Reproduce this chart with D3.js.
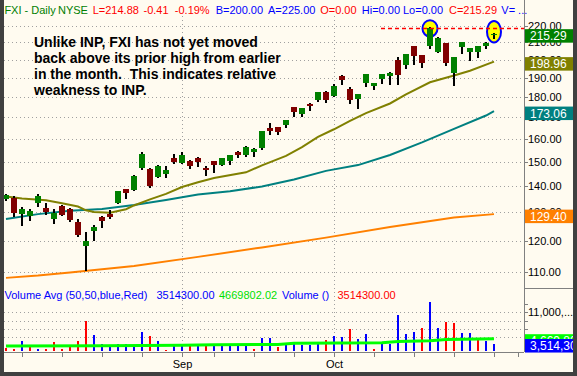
<!DOCTYPE html>
<html>
<head>
<meta charset="utf-8">
<script src="https://cdn.jsdelivr.net/npm/d3@7"></script>
<style>
  body { margin: 0; background: #fffbf0; }
  svg { display: block; font-family: "Liberation Sans", Arial, sans-serif; }
</style>
</head>
<body>
<div id="chart"></div>
<script>
// ---- data ----
var dates = ["2007-08-02","2007-08-03","2007-08-06","2007-08-07","2007-08-08","2007-08-09","2007-08-10",
  "2007-08-13","2007-08-14","2007-08-15","2007-08-16","2007-08-17","2007-08-20","2007-08-21","2007-08-22",
  "2007-08-23","2007-08-24","2007-08-27","2007-08-28","2007-08-29","2007-08-30","2007-08-31",
  "2007-09-04","2007-09-05","2007-09-06","2007-09-07","2007-09-10","2007-09-11","2007-09-12","2007-09-13",
  "2007-09-14","2007-09-17","2007-09-18","2007-09-19","2007-09-20","2007-09-21","2007-09-24","2007-09-25",
  "2007-09-26","2007-09-27","2007-09-28",
  "2007-10-01","2007-10-02","2007-10-03","2007-10-04","2007-10-05","2007-10-08","2007-10-09","2007-10-10",
  "2007-10-11","2007-10-12","2007-10-15","2007-10-16","2007-10-17","2007-10-18","2007-10-19","2007-10-22",
  "2007-10-23","2007-10-24","2007-10-25","2007-10-26","2007-10-29"];

var open  = [135.2,135.6,129.5,128.7,133.7,131.5,127.8,132.3,131.2,126.6,118.3,123.4,128.4,129.6,133.7,138.8,
  138.5,147.5,147.0,143.8,144.9,151.7,149.6,150.4,151.6,147.5,150.3,148.5,150.3,154.2,152.9,154.2,156.1,165.1,
  165.3,166.2,175.0,171.6,176.7,178.5,182.6,180.6,191.1,184.1,179.2,187.3,186.0,189.4,191.2,199.9,197.1,207.9,
  202.7,208.1,204.6,209.7,192.7,207.5,204.6,204.4,208.1,214.3];
var high  = [136.9,136.0,132.0,131.3,137.1,133.6,131.3,132.9,131.5,127.6,123.0,125.5,128.6,130.8,138.3,139.0,
  144.3,154.2,147.2,148.8,148.2,153.2,154.2,150.7,152.0,148.2,150.5,151.8,153.1,154.8,156.9,156.1,163.8,167.4,
  165.5,168.9,175.1,174.7,177.2,182.7,183.2,186.8,191.8,185.1,181.7,192.2,187.4,192.2,193.4,201.7,203.4,208.1,
  202.9,219.5,213.5,209.9,201.8,210.4,207.0,208.0,210.0,215.6];
var low   = [134.1,128.5,125.2,127.0,132.2,129.1,125.9,128.7,126.6,121.3,110.3,120.0,124.4,127.6,133.2,135.1,
  138.1,146.7,139.4,143.1,143.3,149.1,149.0,146.8,147.8,144.1,145.4,148.2,148.6,151.7,152.0,152.0,155.0,161.8,
  161.8,165.2,170.2,170.2,173.2,177.5,177.2,180.2,186.5,176.5,174.1,185.2,183.7,186.8,186.3,186.3,194.8,197.1,
  195.4,206.2,203.9,196.7,186.0,203.3,199.5,200.8,206.2,212.1];
var close = [136.6,129.9,131.2,130.5,136.2,130.0,129.7,129.0,127.3,122.0,120.0,124.7,127.0,128.4,138.1,137.4,
  144.1,153.3,140.2,148.2,146.5,150.0,153.0,148.3,149.8,146.5,148.6,151.6,152.9,152.9,156.4,155.4,163.5,163.6,
  163.2,168.8,172.7,174.6,175.7,182.6,178.8,185.8,188.9,178.5,181.6,192.1,187.3,192.1,192.7,191.6,203.3,202.3,
  198.2,218.7,212.7,198.2,201.7,210.3,206.9,207.9,209.9,215.29];

var volume = [2470000,2210000,4130000,3170000,2110000,2110000,3890000,2110000,3020000,4130000,8990000,5570000,
  3410000,2930000,3410000,3410000,3050000,6280000,5330000,4130000,2020000,3410000,3140000,3170000,2980000,
  3000000,3410000,3050000,3410000,3000000,3000000,2280000,4850000,4850000,2690000,3410000,3410000,3240000,
  3240000,3650000,4370000,5330000,5090000,7000000,4610000,5800000,2280000,3480000,3480000,10430000,5880000,
  6280000,7240000,13480000,7240000,8680000,8440000,6040000,6040000,4850000,4200000,3514300];
// u = volume bar drawn as an up day (blue), d = down day (red)
var volDir = "ddudud" + "dddd" + "duuuuuuudu" + "duudud" + "uuuu" + "udu" + "udu" + "uuuu" +
             "duuduudu" + "uu" + "uuduuddu" + "udu" + "uu";

// moving averages (bar index, value)
var maFastBars = [0,2,5,7,9,10,11,13,15,16,18,20,22,24,26,30,32,35,37,39,41,43,45,48,50,53,56,58,61];
var maFastVals = [136.0,135.2,134.6,133.4,132.2,130.8,130.2,129.9,131.2,132.6,134.9,137.0,139.7,141.6,143.3,
  145.6,148.5,152.5,156.3,160.9,164.4,168.3,172.1,176.8,181.4,187.7,191.3,193.9,198.96];
var maMidBars = [0,4,8,12,16,20,24,28,32,36,40,44,48,52,56,60,61];
var maMidVals = [127.6,129.4,130.6,131.3,132.8,134.7,136.8,138.0,139.9,142.7,146.2,148.6,152.9,158.4,164.6,
  170.9,173.06];
var maSlowBars = [0,4,8,12,16,24,32,40,48,56,61];
var maSlowVals = [108.1,108.8,109.75,110.8,111.8,114.7,117.8,121.1,124.8,128.2,129.4];

var volAvgBars = [0,12,22,26,34,36,47,49,53,55,61];
var volAvgVals = [2950000,3000000,3100000,3200000,3300000,3600000,3700000,4000000,4200000,4450000,4669802];

var priceTicks = [110,120,130,140,150,160,170,180,190,200,210,220];
var volTicks = [5000000,7000000,9000000,11000000,13000000];
var volGrid = [5000000,7000000,9000000,11000000];
var volLabelTicks = [11000000];

var priorHigh = 218.5, priorHighFrom = 47;
var circled = [[53, 218.5], [61, 216.5]];

var notes = ["Unlike INP, FXI has not yet moved",
             "back above its prior high from earlier",
             "in the month.  This indicates relative",
             "weakness to INP."];

// ---- layout ----
var W = 577, H = 376;
var plotL = 4, plotR = 524, frameR = 573, frameB = 372;
var volBase = 350.7, axisY = 352;

var svg = d3.select("#chart").append("svg")
    .attr("width", W).attr("height", H);

svg.append("rect").attr("width", W).attr("height", H).attr("fill", "#fffbf0");

var parse = d3.timeParse("%Y-%m-%d");
var days = dates.map(parse);

var x = d3.scaleLinear().domain([0, 61]).range([6, 494]);
var y = d3.scaleLog().domain([110, 220]).range([271.7, 26]);
var yv = d3.scaleLinear().domain([1800000, 16800000]).range([volBase, 288]);

svg.append("clipPath").attr("id", "plot")
  .append("rect").attr("x", plotL).attr("y", 0).attr("width", plotR - plotL).attr("height", axisY);

var grid = svg.append("g").attr("stroke", "#a0a0a0").attr("stroke-dasharray", "1,3")
    .attr("shape-rendering", "crispEdges");

// horizontal dotted grid
grid.selectAll(".hp").data(priceTicks).enter().append("line")
    .attr("x1", plotL).attr("x2", plotR)
    .attr("y1", d => Math.round(y(d)) + 0.5).attr("y2", d => Math.round(y(d)) + 0.5);
grid.selectAll(".hv").data(volGrid).enter().append("line")
    .attr("x1", plotL).attr("x2", plotR)
    .attr("y1", d => Math.round(yv(d)) + 0.5).attr("y2", d => Math.round(yv(d)) + 0.5);

// month starts and weekly ticks
var monthStarts = [], weekTicks = [];
days.forEach(function(d, i) {
  var newMonth = i > 0 && d.getMonth() != days[i - 1].getMonth();
  if (newMonth) monthStarts.push(i);
  if (newMonth || d.getDay() == 1) weekTicks.push(i);
});
weekTicks.push(64); // first bar of November, past the last candle

grid.selectAll(".vm").data(monthStarts).enter().append("line")
    .attr("x1", d => x(d) + 0.5).attr("x2", d => x(d) + 0.5)
    .attr("y1", 16).attr("y2", axisY);

var plot = svg.append("g").attr("clip-path", "url(#plot)");

// moving averages
var line = d3.line().x(d => x(d[0])).y(d => y(d[1]));
[[maSlowBars, maSlowVals, "#ff8000"], [maMidBars, maMidVals, "#008080"], [maFastBars, maFastVals, "#808000"]]
  .forEach(function(m) {
    plot.append("path").attr("d", line(d3.zip(m[0], m[1])))
        .attr("fill", "none").attr("stroke", m[2]).attr("stroke-width", 2);
  });

// highlight circles + prior high line
plot.selectAll(".hl").data(circled).enter().append("ellipse")
    .attr("cx", d => x(d[0])).attr("cy", d => y(d[1]))
    .attr("rx", (d, i) => i ? 7 : 7.5).attr("ry", (d, i) => i ? 10.8 : 8.3)
    .attr("fill", "#ffff00").attr("stroke", "#0000ff").attr("stroke-width", 2);

svg.append("line")
    .attr("x1", x(priorHighFrom) - 1).attr("x2", plotR)
    .attr("y1", y(priorHigh)).attr("y2", y(priorHigh))
    .attr("stroke", "#ff0000").attr("stroke-width", 1.5).attr("stroke-dasharray", "4,3");

// candles
var idx = d3.range(dates.length);
var candles = plot.append("g").attr("shape-rendering", "crispEdges");
candles.selectAll(".wick").data(idx).enter().append("rect")
    .attr("x", i => x(i) - 1).attr("width", 2)
    .attr("y", i => y(high[i])).attr("height", i => y(low[i]) - y(high[i]))
    .attr("fill", "#000");
candles.selectAll(".body").data(idx).enter().append("rect")
    .attr("x", i => x(i) - 3).attr("width", 6)
    .attr("y", i => y(Math.max(open[i], close[i])))
    .attr("height", i => Math.max(1.5, Math.abs(y(open[i]) - y(close[i]))))
    .attr("fill", i => close[i] >= open[i] ? "#008000" : "#800000");

// volume
plot.append("g").attr("shape-rendering", "crispEdges")
  .selectAll("rect").data(idx).enter().append("rect")
    .attr("x", i => x(i) - 1).attr("width", 2)
    .attr("y", i => yv(volume[i])).attr("height", i => volBase - yv(volume[i]))
    .attr("fill", i => volDir[i] == "u" ? "#0000ff" : "#ff0000");

plot.append("path")
    .attr("d", d3.line().x(d => x(d[0])).y(d => yv(d[1]))(d3.zip(volAvgBars, volAvgVals)))
    .attr("fill", "none").attr("stroke", "#00ff00").attr("stroke-width", 3);

// axes lines
var axes = svg.append("g").attr("stroke", "#808080").attr("shape-rendering", "crispEdges");
axes.append("line").attr("x1", plotR + 0.5).attr("x2", plotR + 0.5).attr("y1", 0).attr("y2", axisY)
    .attr("stroke-width", 1.5);
axes.append("line").attr("x1", plotL).attr("x2", plotR).attr("y1", axisY + 0.5).attr("y2", axisY + 0.5);
axes.append("line").attr("x1", plotR).attr("x2", frameR).attr("y1", 288.5).attr("y2", 288.5);
axes.selectAll(".xt").data(weekTicks).enter().append("line")
    .attr("x1", d => x(d) + 0.5).attr("x2", d => x(d) + 0.5).attr("y1", axisY).attr("y2", axisY + 5);
axes.selectAll(".yt").data(priceTicks).enter().append("line")
    .attr("x1", plotR).attr("x2", plotR + 4)
    .attr("y1", d => Math.round(y(d)) + 0.5).attr("y2", d => Math.round(y(d)) + 0.5);
axes.selectAll(".vt").data(volTicks).enter().append("line")
    .attr("x1", plotR).attr("x2", plotR + 4)
    .attr("y1", d => Math.round(yv(d)) + 0.5).attr("y2", d => Math.round(yv(d)) + 0.5);

// axis labels
svg.selectAll(".yl").data(priceTicks).enter().append("text")
    .attr("x", 528).attr("y", d => y(d) + 4)
    .attr("font-size", 11).attr("fill", "#000")
    .text(d3.format(".2f"));
svg.selectAll(".vl").data(volLabelTicks).enter().append("text")
    .attr("x", 528).attr("y", d => yv(d) + 4)
    .attr("font-size", 11).attr("fill", "#000")
    .text(d => d3.format(",")(d).slice(0, 7) + "...");
svg.selectAll(".ml").data(monthStarts).enter().append("text")
    .attr("x", d => x(d) + 0.5).attr("y", 368).attr("text-anchor", "middle")
    .attr("font-size", 11).attr("fill", "#000")
    .text(d => d3.timeFormat("%b")(days[d]));

// last value boxes
var lastBoxes = [
  [y(maFastVals[maFastVals.length - 1]), "#808000", d3.format(".2f")(maFastVals[maFastVals.length - 1])],
  [y(maMidVals[maMidVals.length - 1]), "#008080", d3.format(".2f")(maMidVals[maMidVals.length - 1])],
  [y(maSlowVals[maSlowVals.length - 1]), "#ff8000", d3.format(".2f")(maSlowVals[maSlowVals.length - 1])],
  [y(close[close.length - 1]), "#008000", d3.format(".2f")(close[close.length - 1])],
  [yv(volAvgVals[volAvgVals.length - 1]), "#00ff00", d3.format(",")(Math.round(volAvgVals[volAvgVals.length - 1]))],
  [yv(volume[volume.length - 1]), "#0000ff", d3.format(",")(volume[volume.length - 1])]
];
var boxes = svg.selectAll(".box").data(lastBoxes).enter().append("g");
boxes.append("rect").attr("x", plotR + 1).attr("width", frameR - plotR)
    .attr("y", d => d[0] - 4.5).attr("height", 13.5).attr("fill", d => d[1]);
boxes.append("text").attr("x", 530).attr("y", d => d[0] + 6.5)
    .attr("font-size", 12).attr("fill", "#fff").text(d => d[2]);

// header row
var header = [["FXI - Daily", 4.4, "#008000"], ["NYSE", 58, "#008000"], ["L=214.88", 92.7, "#ff0000"],
  ["-0.41", 143.5, "#ff0000"], ["-0.19%", 174.8, "#ff0000"], ["B=200.00", 215.7, "#0000ff"],
  ["A=225.00", 268, "#0000ff"], ["O=0.00", 320.2, "#ff0000"], ["Hi=0.00", 361.8, "#0000ff"],
  ["Lo=0.00", 403, "#0000ff"], ["C=215.29", 449, "#ff0000"], ["V= ...", 501.3, "#0000ff"]];
svg.selectAll(".hd").data(header).enter().append("text")
    .attr("x", d => d[1]).attr("y", 14).attr("font-size", 11).attr("fill", d => d[2])
    .text(d => d[0]);

var volHeader = [["Volume Avg (50,50,blue,Red)", 4.5, "#0000ff"], ["3514300.00", 156.4, "#0000ff"],
  ["4669802.02", 219, "#00e000"], ["Volume ()", 282, "#0000ff"], ["3514300.00", 337.5, "#ff0000"]];
svg.selectAll(".vh").data(volHeader).enter().append("text")
    .attr("x", d => d[1]).attr("y", 299).attr("font-size", 11).attr("fill", d => d[2])
    .text(d => d[0]);

// annotation
svg.selectAll(".note").data(notes).enter().append("text")
    .attr("x", 34).attr("y", (d, i) => 47 + i * 16)
    .attr("font-size", 14).attr("font-weight", "bold").attr("fill", "#000")
    .style("white-space", "pre")
    .text(d => d);

// dark frame
var frame = svg.append("g").attr("fill", "#404040");
frame.append("rect").attr("x", 0).attr("y", 0).attr("width", plotL).attr("height", H);
frame.append("rect").attr("x", frameR).attr("y", 0).attr("width", W - frameR).attr("height", H);
frame.append("rect").attr("x", 0).attr("y", frameB).attr("width", W).attr("height", H - frameB);
</script>
</body>
</html>
